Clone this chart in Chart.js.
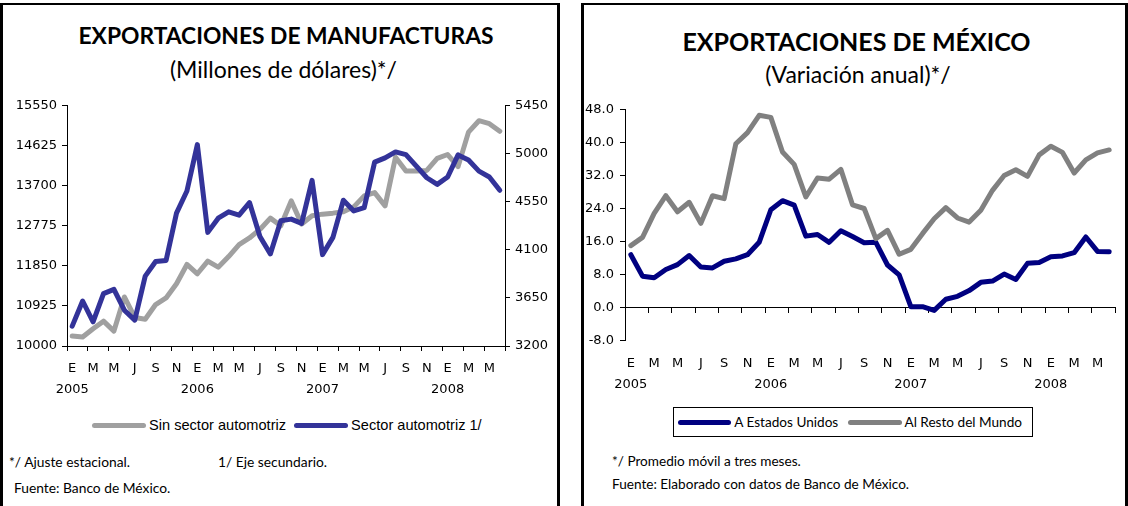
<!DOCTYPE html>
<html>
<head>
<meta charset="utf-8">
<script src="https://cdn.jsdelivr.net/npm/chart.js@4.4.0/dist/chart.umd.min.js"></script>
<style>
  body { margin:0; background:#fff; width:1128px; height:506px; position:relative; overflow:hidden; font-family:Lato, sans-serif; color:#000; }
  .panel { position:absolute; top:3px; height:520px; border-left:3px solid #000; border-right:3px solid #000; border-top:2px solid #000; box-sizing:border-box; }
  .txt { position:absolute; white-space:nowrap; line-height:1; }
  canvas { position:absolute; }
  .legend { position:absolute; display:flex; align-items:center; white-space:nowrap; }
  .legend .sw { height:5px; border-radius:3px; margin-right:3px; }
</style>
</head>
<body>
<div class="panel" style="left:0; width:560px;"></div>
<div class="panel" style="left:581px; width:547px;"></div>

<div class="txt" style="left:0; width:572px; text-align:center; top:24px; font-size:22.8px; font-weight:bold;">EXPORTACIONES DE MANUFACTURAS</div>
<div class="txt" style="left:0; width:567px; text-align:center; top:58px; font-size:23px;">(Millones de dólares)*/</div>
<div class="txt" style="left:581px; width:551px; text-align:center; top:29px; font-size:25px; font-weight:bold;">EXPORTACIONES DE MÉXICO</div>
<div class="txt" style="left:581px; width:554px; text-align:center; top:63px; font-size:23px;">(Variación anual)*/</div>

<canvas id="manuf" width="560" height="325" style="left:0; top:90px;"></canvas>
<canvas id="mexico" width="545" height="302" style="left:580px; top:93px;"></canvas>

<div class="legend" id="legManuf" style="left:92px; top:417px; font-family:'Liberation Sans', Arial, sans-serif; font-size:14.6px;"></div>
<div class="legend" id="legMexico" style="left:673px; top:407px; width:360px; height:30px; box-sizing:border-box; border:1px solid #000; padding-left:4px; font-size:13.6px;"></div>

<div class="txt" style="left:9px; top:455px; font-size:13.8px;">*/ Ajuste estacional.</div>
<div class="txt" style="left:218px; top:455px; font-size:13.8px;">1/ Eje secundario.</div>
<div class="txt" style="left:14px; top:481px; font-size:13.8px;">Fuente: Banco de México.</div>
<div class="txt" style="left:612px; top:455px; font-size:13.6px;">*/ Promedio móvil a tres meses.</div>
<div class="txt" style="left:612px; top:478px; font-size:13.6px;">Fuente: Elaborado con datos de Banco de México.</div>

<script>
// Months Jan 2005 - Jun 2008
const monthLetters = ['E', 'F', 'M', 'A', 'M', 'J', 'J', 'A', 'S', 'O', 'N', 'D'];
const years = ['2005', '2006', '2007', '2008'];
const monthCount = 42;

// Exportaciones de manufacturas (millones de dólares)
const sinSectorAuto = [
  10229, 10206, 10398, 10573, 10344, 11132, 10658, 10619, 10956, 11109, 11437, 11881,
  11667, 11957, 11820, 12064, 12340, 12493, 12690, 12951, 12775, 13349, 12814, 13005,
  13043, 13066, 13097, 13211, 13464, 13540, 13234, 14358, 14037, 14037, 14052, 14328,
  14419, 14140, 14935, 15199, 15131, 14955
];
const sectorAuto = [
  3386, 3621, 3426, 3690, 3730, 3535, 3442, 3854, 3990, 4000, 4443, 4650,
  5084, 4263, 4396, 4455, 4424, 4542, 4225, 4061, 4371, 4387, 4347, 4750,
  4055, 4216, 4564, 4464, 4495, 4920, 4960, 5016, 4991, 4883, 4774, 4712,
  4781, 4988, 4940, 4836, 4781, 4657
];

// Exportaciones de México (variación anual)
const aEstadosUnidos = [
  12.8, 7.6, 7.2, 9.2, 10.4, 12.6, 9.8, 9.6, 11.2, 11.8, 12.8, 15.8,
  23.7, 25.9, 24.8, 17.3, 17.7, 15.8, 18.6, 17.2, 15.7, 15.8, 10.3, 7.9,
  0.2, 0.2, -0.7, 2.0, 2.7, 4.1, 6.1, 6.4, 8.1, 6.8, 10.7, 10.9,
  12.3, 12.5, 13.3, 17.1, 13.6, 13.5
];
const alRestoMundo = [
  15.0, 17.0, 22.8, 27.1, 23.2, 25.5, 20.4, 27.1, 26.4, 39.7, 42.4, 46.6,
  46.1, 37.7, 34.7, 26.8, 31.4, 31.1, 33.5, 24.9, 24.0, 16.7, 18.7, 12.9,
  14.1, 17.9, 21.5, 24.2, 21.7, 20.7, 23.6, 28.4, 32.0, 33.4, 31.8, 37.0,
  39.1, 37.6, 32.6, 35.8, 37.5, 38.2
];

// axis ranges / tick steps
const manufLeftTicks = { min: 10000, max: 15550, step: 925 };
const manufRightTicks = { min: 3200, max: 5450, step: 450 };
const mexicoTicks = { min: -8, max: 48, step: 8 };

const categories = [];
for (let i = 0; i < monthCount; i++) {
  const m = i % 12;
  categories.push(m === 0 ? [monthLetters[m], years[Math.floor(i / 12)]] : monthLetters[m]);
}

const tickFont = { family: 'DejaVu Sans', size: 13, lineHeight: 21 / 13 };
const everyOther = ctx => (ctx.index === undefined || ctx.index % 2 === 0) ? '#000' : 'rgba(0,0,0,0)';
function everyOtherLabel(v, i) { return i % 2 === 0 ? this.getLabelForValue(v) : ''; }

const lineStyle = { borderWidth: 5, pointRadius: 0, tension: 0, fill: false, borderJoinStyle: 'round', borderCapStyle: 'round' };

const manufChart = new Chart(document.getElementById('manuf'), {
  type: 'line',
  data: {
    labels: categories,
    datasets: [
      { label: 'Sin sector automotriz', data: sinSectorAuto, borderColor: '#a0a0a0', yAxisID: 'y', order: 1, ...lineStyle },
      { label: 'Sector automotriz 1/', data: sectorAuto, borderColor: '#333399', yAxisID: 'y1', order: 0, ...lineStyle }
    ]
  },
  options: {
    responsive: false, animation: false, devicePixelRatio: 1,
    layout: { padding: { top: 9, left: 0, right: 0, bottom: 0 } },
    plugins: { legend: { display: false }, tooltip: { enabled: false } },
    scales: {
      x: {
        type: 'category', offset: true,
        grid: { offset: true, drawOnChartArea: false, tickLength: 5, tickColor: everyOther },
        border: { color: '#000' },
        ticks: { autoSkip: false, maxRotation: 0, minRotation: 0, padding: 7.5, color: '#000', font: tickFont, callback: everyOtherLabel },
        afterFit: s => { s.height = 69; }
      },
      y: {
        position: 'left', min: manufLeftTicks.min, max: manufLeftTicks.max,
        grid: { drawOnChartArea: false, tickLength: 5, color: '#000' },
        border: { color: '#000' },
        ticks: { stepSize: manufLeftTicks.step, padding: 5, color: '#000', font: tickFont, callback: v => String(v) },
        afterFit: s => { s.width = 67; }
      },
      y1: {
        position: 'right', min: manufRightTicks.min, max: manufRightTicks.max,
        grid: { drawOnChartArea: false, tickLength: 5, color: '#000' },
        border: { color: '#000' },
        ticks: { stepSize: manufRightTicks.step, padding: 5, color: '#000', font: tickFont, callback: v => String(v) },
        afterFit: s => { s.width = 55; }
      }
    }
  }
});

const mexicoChart = new Chart(document.getElementById('mexico'), {
  type: 'line',
  data: {
    labels: categories,
    datasets: [
      { label: 'A Estados Unidos', data: aEstadosUnidos, borderColor: '#000080', order: 1, ...lineStyle },
      { label: 'Al Resto del Mundo', data: alRestoMundo, borderColor: '#808080', order: 0, ...lineStyle }
    ]
  },
  options: {
    responsive: false, animation: false, devicePixelRatio: 1,
    layout: { padding: { top: 13, left: 0, right: 10, bottom: 0 } },
    plugins: { legend: { display: false }, tooltip: { enabled: false } },
    scales: {
      x: {
        type: 'category', offset: true, position: { y: 0 },
        grid: { offset: true, drawOnChartArea: false, tickLength: 5, tickColor: everyOther },
        border: { color: '#000' },
        ticks: { display: false, autoSkip: false }
      },
      x2: {
        type: 'category', position: 'bottom', offset: true,
        grid: { display: false, drawTicks: false, offset: true },
        border: { display: false },
        ticks: { autoSkip: false, maxRotation: 0, minRotation: 0, padding: 12.3, color: '#000', font: tickFont, callback: everyOtherLabel },
        afterFit: s => { s.height = 54.5; }
      },
      y: {
        min: mexicoTicks.min, max: mexicoTicks.max,
        grid: { drawOnChartArea: false, tickLength: 5, color: '#000' },
        border: { color: '#000' },
        ticks: { stepSize: mexicoTicks.step, padding: 6, color: '#000', font: tickFont, callback: v => v.toFixed(1) },
        afterFit: s => { s.width = 45; }
      }
    }
  }
});

function buildLegend(el, chart, swatchWidths, gap) {
  el.innerHTML = chart.data.datasets.map((ds, i) =>
    `<span class="sw" style="width:${swatchWidths[i]}px; background:${ds.borderColor};"></span>` +
    `<span style="margin-right:${gap}px">${ds.label}</span>`
  ).join('');
}
buildLegend(document.getElementById('legManuf'), manufChart, [54, 54], 8);
buildLegend(document.getElementById('legMexico'), mexicoChart, [56, 56], 10);
</script>
</body>
</html>
